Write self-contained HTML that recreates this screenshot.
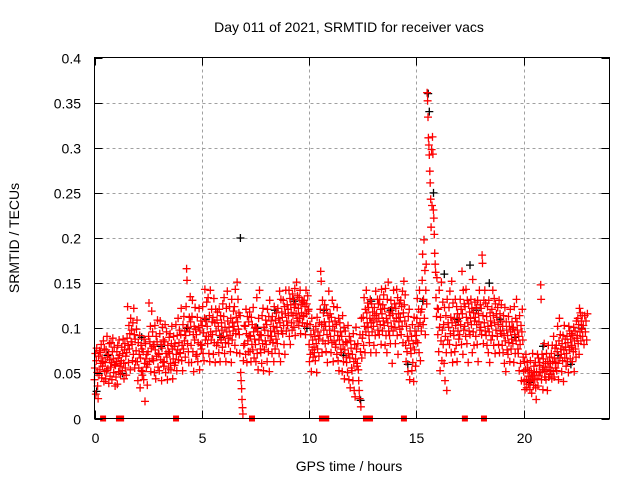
<!DOCTYPE html>
<html><head><meta charset="utf-8"><style>
html,body{margin:0;padding:0;background:#fff;}
svg text{font-family:"Liberation Sans",sans-serif;fill:#000;}
</style></head><body>
<svg id="chart" width="640" height="480" xmlns="http://www.w3.org/2000/svg">
<rect width="640" height="480" fill="#fff"/>
<text x="349" y="32" font-size="14" text-anchor="middle">Day 011 of 2021, SRMTID for receiver vacs</text>
<text x="349" y="471" font-size="14" text-anchor="middle">GPS time / hours</text>
<text transform="translate(19,238) rotate(-90)" font-size="14" text-anchor="middle">SRMTID / TECUs</text>
<g id="grid"></g>
<g id="marks"></g>
<rect x="94.5" y="57.5" width="515" height="361" fill="none" stroke="#000" stroke-width="1"/>
<g id="axes"></g>
</svg>
<script>
const xTicks=[0,5,10,15,20];
const yTicks=[0,0.05,0.1,0.15,0.2,0.25,0.3,0.35,0.4];
const yTickLabels=["0","0.05","0.1","0.15","0.2","0.25","0.3","0.35","0.4"];
const binStarts=[0,0.25,0.5,0.75,1,1.25,1.5,1.75,2,2.25,2.5,2.75,3,3.25,3.5,3.75,4,4.25,4.5,4.75,5,5.25,5.5,5.75,6,6.25,6.5,6.75,7,7.25,7.5,7.75,8,8.25,8.5,8.75,9,9.25,9.5,9.75,10,10.25,10.5,10.75,11,11.25,11.5,11.75,12,12.25,12.5,12.75,13,13.25,13.5,13.75,14,14.25,14.5,14.75,15,15.25,15.5,15.75,16,16.25,16.5,16.75,17,17.25,17.5,17.75,18,18.25,18.5,18.75,19,19.25,19.5,19.75,20,20.25,20.5,20.75,21,21.25,21.5,21.75,22,22.25,22.5,22.75];
const redValues=[
[4.3,5.6,7.2,2.7,6.4,7.8,5.1,3.6,2.2,6.9,4.8,7.5],[5.4,7.3,6.1,8.2,4.5,6.7,5.8,6.3,8.6,4.1,7.7,5.2],[6.2,4.4,7.6,5.3,9.1,6.8,5.5,7.1,3.9,8.3,6.5,4.7],[5.7,8.4,6.2,4.3,7.4,8.9,6.6,5.1,7.9,6.0,3.6,5.9],
[4.6,6.3,7.4,3.8,8.1,6.7,5.2,8.7,7.0,5.8,4.9,6.1],[6.4,7.9,5.3,7.2,8.8,6.1,4.4,7.6,8.3,5.6,6.9,4.8],[7.3,8.9,12.4,8.1,6.2,10.3,7.7,9.4,5.4,11.1,8.5,9.8],[8.2,6.4,10.6,7.1,12.2,9.3,5.6,8.8,6.3,7.5,9.9,10.9],
[6.3,4.2,8.4,5.6,7.1,9.2,3.4,6.7,8.1,5.3,7.7,4.8],[5.2,7.4,4.3,8.8,6.1,1.9,8.3,6.6,5.7,7.1,3.7,6.0],[7.4,9.1,12.8,6.3,8.5,10.2,5.2,7.8,11.9,6.6,9.6,8.0],[6.4,8.2,5.1,10.3,7.6,4.4,9.1,6.9,8.5,10.9,5.7,7.2],
[7.1,5.3,9.4,10.8,6.5,8.2,4.2,7.8,10.1,6.2,8.7,5.8],[6.3,8.5,10.4,5.1,7.2,9.6,6.8,4.3,8.1,7.4,5.6,9.0],[7.2,9.4,6.1,5.4,8.3,10.2,7.7,4.4,6.6,9.1,8.0,5.9],[8.3,6.2,10.4,7.1,5.3,9.2,7.6,11.1,6.5,8.4,9.8,7.3],
[7.2,9.3,12.2,6.4,8.1,5.3,10.4,7.7,11.3,8.6,9.7,6.8],[9.2,12.4,16.6,15.3,8.3,10.1,7.4,6.2,11.2,9.6,13.5,10.7],[8.1,6.2,11.3,13.1,7.4,9.3,5.2,10.2,8.7,12.3,9.9,6.9],[9.3,7.1,11.2,6.3,8.4,10.1,12.2,5.4,9.7,8.2,10.8,7.7],
[8.1,10.3,12.4,7.2,9.5,6.4,11.1,14.3,8.7,10.8,9.1,12.9],[10.2,8.3,13.4,9.1,7.2,11.4,6.3,14.2,9.6,8.7,12.1,10.7],[9.3,11.2,7.1,13.3,8.4,10.6,6.2,12.1,9.7,8.1,10.9,11.8],[8.4,10.2,7.3,12.1,9.2,6.3,11.4,8.7,10.6,9.8,7.9,12.7],
[9.1,11.3,13.4,7.2,10.1,8.4,6.3,12.2,9.6,14.1,10.8,8.9],[8.3,10.1,12.4,9.2,7.4,11.1,6.2,13.2,8.7,10.6,9.7,11.9],[10.2,12.4,8.1,14.3,9.4,11.2,7.3,15.1,10.7,13.2,9.9,11.7],[9.3,7.2,11.4,5.1,4.2,3.3,2.1,1.2,0.5,6.4,8.1,10.3],
[8.3,10.2,7.1,12.1,9.4,6.2,11.3,8.6,7.4,10.7,9.2,11.8],[7.4,9.1,6.3,11.2,8.2,10.4,7.6,12.3,9.6,6.7,8.8,10.1],[8.2,6.3,10.1,13.4,7.2,9.6,5.4,11.1,8.7,14.2,9.3,7.7],[7.3,9.2,6.1,11.4,8.3,12.2,5.3,10.1,7.6,9.8,8.6,10.9],
[8.2,10.4,6.3,12.1,9.2,7.4,11.3,5.2,13.1,8.6,9.7,10.8],[9.1,7.2,11.3,8.4,10.2,6.3,12.4,9.6,7.7,10.9,8.8,11.7],[10.1,8.3,12.2,9.4,11.1,7.2,14.1,10.6,6.3,13.2,9.7,11.8],[11.2,9.4,13.1,10.3,8.2,12.4,7.1,11.6,14.2,9.7,10.8,12.6],
[10.3,12.1,11.4,14.2,9.1,13.3,8.2,12.6,11.7,10.6,9.8,13.8],[11.4,13.2,10.1,12.3,14.4,9.2,12.7,11.6,15.1,10.8,13.6,11.1],[12.2,10.3,13.4,11.1,14.2,9.4,12.6,11.7,13.1,10.6,12.9,11.4],[11.3,13.1,10.2,12.4,9.3,14.2,11.6,12.7,10.5,13.6,11.9,12.1],
[8.2,6.3,10.4,7.1,9.3,5.2,11.1,7.6,8.7,6.8,9.8,7.9],[7.3,9.1,6.4,10.2,8.3,5.1,11.2,7.7,9.6,8.8,6.9,10.6],[9.2,12.1,16.3,15.2,10.4,7.3,13.1,8.6,11.7,9.8,10.7,12.6],[8.3,10.2,7.4,12.1,9.3,6.2,11.4,8.6,14.1,10.7,9.8,11.6],
[9.1,7.3,11.2,8.4,13.1,10.2,6.3,12.4,8.6,9.7,10.8,7.9],[8.2,10.4,7.1,12.3,9.2,6.4,11.1,5.3,8.7,10.6,9.6,7.7],[7.3,9.1,5.2,11.4,8.2,6.3,10.1,4.4,7.6,9.7,8.5,6.8],[6.2,8.4,5.1,10.3,7.2,4.3,9.1,6.7,3.4,8.6,7.8,5.6],
[5.3,7.1,4.2,9.4,6.3,3.1,8.2,2.4,6.6,10.1,7.7,5.8],[6.1,8.3,5.4,4.2,3.1,2.2,9.3,7.4,1.3,11.1,6.7,8.9],[9.3,11.2,8.1,13.4,10.2,7.3,12.1,9.6,14.2,11.7,10.6,12.8],[10.1,12.3,9.2,8.4,11.1,13.2,7.3,10.6,12.7,9.6,11.8,10.9],
[10.2,8.1,12.3,11.4,9.2,14.1,7.3,11.6,10.7,13.2,9.8,12.7],[11.1,9.3,13.2,10.4,12.1,8.2,14.3,11.6,9.7,12.6,10.8,13.7],[10.3,12.2,8.1,14.4,9.2,11.1,7.3,13.2,10.6,15.1,9.7,11.8],[9.2,11.4,8.3,13.1,10.2,12.3,6.1,11.6,9.7,14.2,10.8,12.7],
[10.1,8.3,12.2,11.1,14.3,9.2,13.4,7.1,11.6,10.7,12.8,9.9],[11.2,13.1,9.3,12.4,10.2,14.1,8.4,11.7,15.2,12.6,10.8,13.7],[8.1,6.3,10.2,7.4,9.1,5.2,11.3,8.6,12.1,4.3,9.7,7.8],[7.2,9.1,5.3,10.4,6.2,8.3,4.1,11.2,7.6,9.7,5.8,8.6],
[9.2,11.1,13.3,8.4,10.2,12.1,7.3,14.2,10.6,6.4,11.8,9.7],[12.1,15.3,18.2,10.4,13.2,19.8,11.1,16.4,9.3,14.2,17.1,12.7],[36.1,35.2,33.4,31.1,30.3,29.2,27.4,26.1,24.3,21.2,29.8,23.6],[31.2,29.3,23.1,22.2,20.4,18.3,17.1,16.2,13.4,11.3,15.6,12.2],
[9.3,12.1,7.4,14.2,10.1,5.3,11.2,8.6,15.1,6.4,9.8,12.9],[8.2,10.4,6.1,12.3,4.2,9.1,11.4,7.3,3.1,13.2,8.7,10.6],[10.1,12.3,8.2,14.1,9.4,11.2,7.3,15.2,10.6,6.2,12.8,9.7],[9.2,11.1,7.4,13.2,10.3,8.1,12.4,6.3,11.6,9.7,10.8,8.8],
[11.1,9.3,13.2,10.4,12.1,8.2,16.3,11.6,7.1,14.2,9.8,12.7],[10.2,12.4,9.1,14.3,11.2,8.3,13.1,10.6,6.2,12.7,9.7,11.8],[9.3,11.1,13.2,10.4,12.2,7.3,15.4,9.6,11.7,8.1,10.8,12.9],[11.2,9.1,12.3,10.4,8.2,13.1,6.3,11.6,10.7,14.2,9.8,12.6],
[10.1,12.2,9.3,18.1,17.2,11.4,8.3,13.1,10.6,14.2,9.7,12.8],[9.2,11.3,8.1,12.4,10.2,7.3,13.1,9.6,6.2,11.7,10.8,8.7],[10.3,12.1,9.2,14.2,11.4,8.1,13.3,10.6,7.2,12.7,9.8,11.6],[11.2,9.1,12.3,10.4,8.2,13.1,7.3,11.6,9.7,10.8,12.6,9.4],
[8.1,10.2,7.3,11.4,9.2,6.1,12.3,8.6,5.2,10.7,9.8,7.6],[9.2,7.1,11.3,8.4,10.2,6.3,12.1,9.6,7.7,8.8,10.7,9.9],[8.3,10.1,6.2,12.4,9.3,7.2,11.1,8.6,13.2,10.7,9.8,7.7],[7.2,9.1,5.3,11.4,8.2,6.1,10.3,4.2,9.6,12.1,8.7,6.8],
[5.2,4.1,6.3,3.2,5.4,7.1,4.3,3.4,6.2,5.6,4.7,3.8],[4.1,5.3,3.2,6.4,4.2,5.1,2.8,4.6,7.2,4.8,3.7,5.8],[5.1,4.3,6.2,3.4,2.1,5.2,4.4,7.1,3.6,6.7,4.8,5.9],[6.2,5.1,14.8,13.2,4.3,7.1,5.4,3.2,6.6,5.7,8.3,4.6],
[5.2,6.1,4.3,7.2,5.4,3.1,6.3,8.1,4.6,5.7,6.8,4.9],[6.1,5.3,7.2,4.4,8.1,6.3,5.2,9.1,4.6,6.7,7.8,5.6],[6.2,8.1,5.3,7.4,10.2,6.1,4.3,8.6,11.1,6.7,9.3,7.7],[7.1,5.2,8.3,6.4,9.2,4.1,7.6,10.3,6.7,8.8,7.9,5.8],
[7.2,9.1,6.3,8.4,5.1,10.2,7.6,9.7,6.6,8.8,7.9,9.4],[8.1,6.3,9.2,7.4,10.1,5.2,8.6,9.7,7.7,6.8,10.8,8.9],[9.2,11.1,8.3,10.4,7.1,12.2,9.6,11.7,8.6,10.8,9.9,11.4],[9.1,10.3,8.2,11.4,9.6,10.8,8.7,11.6]
];
const blackTimes=[0.1,0.6,1.3,2.2,3.1,4.3,5.2,5.9,6.8,7.6,8.4,9.3,9.9,10.7,11.6,12.4,12.9,13.8,14.6,15.3,15.55,15.6,15.8,16.3,16.9,17.5,17.8,18.4,18.9,19.6,20.3,20.9,21.6,22.2,22.7];
const blackValues=[0.03,0.07,0.05,0.09,0.08,0.1,0.11,0.09,0.2,0.1,0.12,0.13,0.1,0.12,0.07,0.02,0.13,0.12,0.06,0.13,0.36,0.34,0.25,0.16,0.11,0.17,0.12,0.15,0.11,0.09,0.04,0.08,0.07,0.06,0.1];
const zeroTimes=[0.4,1.14,1.24,3.8,7.34,10.6,10.7,10.8,12.65,12.84,14.42,17.26,18.15];

const NS="http://www.w3.org/2000/svg";
const L=94.5,R=609.5,T=57.5,B=418.5;
const xs=t=>L+(R-L)*t/24;
const ys=v=>B-(B-T)*v/0.4;
const grid=document.getElementById('grid'),axes=document.getElementById('axes'),marks=document.getElementById('marks');
function mk(tag,attrs,parent){const e=document.createElementNS(NS,tag);for(const k in attrs)e.setAttribute(k,attrs[k]);parent.appendChild(e);return e;}
yTicks.forEach((v,i)=>{
  const y=Math.round(ys(v))+0.5;
  if(i>0&&i<yTicks.length-1){const g=mk('line',{x1:L,x2:R,y1:y,y2:y,stroke:'#a0a0a0','stroke-dasharray':'3,3'},grid);
  
  }
  const t1=mk('line',{x1:L,x2:L+8,y1:y,y2:y,stroke:'#000'},axes);
  
  
  const t2=mk('line',{x1:R-8,x2:R,y1:y,y2:y,stroke:'#000'},axes);
  
  
  const tx=mk('text',{x:81,y:y+5,'font-size':'14','text-anchor':'end'},axes);
  tx.textContent=yTickLabels[i];
  
  
});
xTicks.forEach(v=>{
  const x=Math.round(xs(v))+0.5;
  if(v>0){const g=mk('line',{x1:x,x2:x,y1:T,y2:B,stroke:'#a0a0a0','stroke-dasharray':'3,3'},grid);
  
  }
  const t1=mk('line',{x1:x,x2:x,y1:B-8,y2:B,stroke:'#000'},axes);
  
  
  const t2=mk('line',{x1:x,x2:x,y1:T,y2:T+8,stroke:'#000'},axes);
  
  
  const tx=mk('text',{x:x,y:443,'font-size':'14','text-anchor':'middle'},axes);
  tx.textContent=String(v);
  
  
});
function plus(t,v,color,name){
  const x=xs(t),y=ys(v);
  const p=mk('path',{d:`M${(x-4).toFixed(1)} ${y.toFixed(1)}h8M${x.toFixed(1)} ${(y-4).toFixed(1)}v8`,stroke:color,'stroke-width':'1.3',fill:'none'},marks);
  
  
}
blackTimes.forEach((t,i)=>plus(t,blackValues[i],'#000','point-black'));
binStarts.forEach((t0,b)=>{
  const vals=redValues[b];
  vals.forEach((v,j)=>plus(t0+0.25*j/vals.length,v/100,'#f00','point-red'));
});
zeroTimes.forEach(t=>{
  const r=mk('rect',{x:xs(t)-3,y:B-3,width:6,height:6,fill:'#f00'},marks);
  
  
});
</script>
</body></html>
